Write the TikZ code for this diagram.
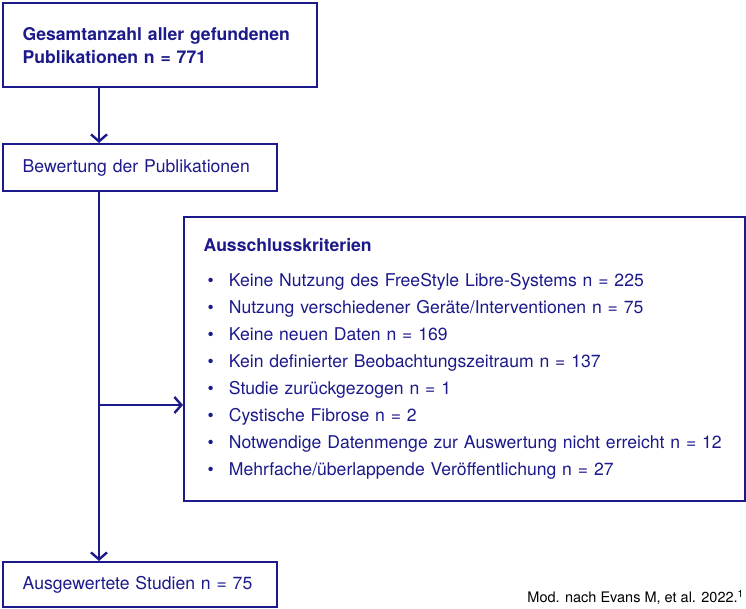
\documentclass[tikz,border=0pt]{standalone}
\usepackage{fontspec}
\setmainfont{TeX Gyre Heros}
\usetikzlibrary{arrows.meta,calc}
\definecolor{flowblue}{HTML}{1C1A8A}
\tikzset{
  flowbox/.style={draw=flowblue,line width=2.4pt,text=flowblue,align=left,anchor=north west,
    inner xsep=19pt,font=\fontsize{17.6}{23}\selectfont},
  flowarrow/.style={draw=flowblue,line width=2.4pt,-{Straight Barb[length=7pt,width=16pt,line width=2.4pt]}}
}
\begin{document}
\begin{tikzpicture}[x=1pt,y=-1pt]
  \useasboundingbox (0,0) rectangle (746,609);
  \node[flowbox,minimum width=314pt,minimum height=84pt,text width=275pt] (gesamt) at (2,2)
    {\textbf{Gesamtanzahl aller gefundenen}\\\textbf{Publikationen n = 771}};
  \node[flowbox,minimum width=274pt,minimum height=47pt,text width=235pt] (bewertung) at (2,143)
    {Bewertung der Publikationen};
  \node[flowbox,minimum width=561pt,minimum height=284pt,text width=522pt,
        font=\fontsize{17.6}{27}\selectfont] (kriterien) at (183,216)
    {\textbf{Ausschlusskriterien}\\[8pt]
     \hspace*{4pt}\textbullet\hspace{15pt}Keine Nutzung des FreeStyle Libre-Systems n = 225\\
     \hspace*{4pt}\textbullet\hspace{15pt}Nutzung verschiedener Geräte/Interventionen n = 75\\
     \hspace*{4pt}\textbullet\hspace{15pt}Keine neuen Daten n = 169\\
     \hspace*{4pt}\textbullet\hspace{15pt}Kein definierter Beobachtungszeitraum n = 137\\
     \hspace*{4pt}\textbullet\hspace{15pt}Studie zurückgezogen n = 1\\
     \hspace*{4pt}\textbullet\hspace{15pt}Cystische Fibrose n = 2\\
     \hspace*{4pt}\textbullet\hspace{15pt}Notwendige Datenmenge zur Auswertung nicht erreicht n = 12\\
     \hspace*{4pt}\textbullet\hspace{15pt}Mehrfache/überlappende Veröffentlichung n = 27};
  \node[flowbox,minimum width=274pt,minimum height=45pt,text width=235pt] (studien) at (2,561)
    {Ausgewertete Studien n = 75};
  \node[text=black,anchor=south east,inner sep=0pt,font=\fontsize{14.5}{16}\selectfont] (quelle) at (744,605)
    {Mod. nach Evans M, et al. 2022.\textsuperscript{1}};
  % connectors
  \coordinate (branch) at (99,405);
  \draw[flowarrow] (gesamt.south -| branch) -- (bewertung.north -| branch);
  \draw[flowarrow] (bewertung.south -| branch) -- (studien.north -| branch);
  \draw[flowarrow] (branch) -- (kriterien.west |- branch);
\end{tikzpicture}
\end{document}
